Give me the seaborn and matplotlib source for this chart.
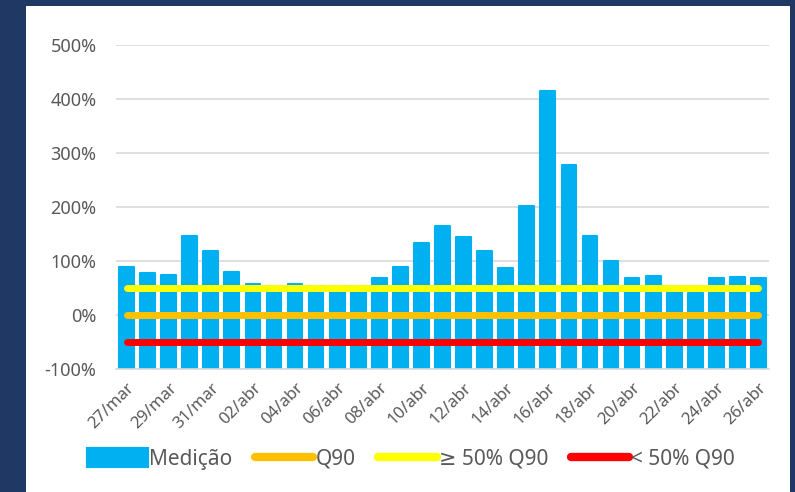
import matplotlib
matplotlib.use('Agg')

import matplotlib.pyplot as plt
import numpy as np
import pandas as pd
import seaborn as sns
from matplotlib.lines import Line2D
from matplotlib.patches import Patch, Rectangle
from matplotlib.ticker import FuncFormatter


# ── Data ─────────────────────────────────────────────────────────────────────

dates = [
    '27/mar', '28/mar', '29/mar', '30/mar', '31/mar',
    '01/abr', '02/abr', '03/abr', '04/abr', '05/abr', '06/abr', '07/abr',
    '08/abr', '09/abr', '10/abr', '11/abr', '12/abr', '13/abr', '14/abr',
    '15/abr', '16/abr', '17/abr', '18/abr', '19/abr', '20/abr', '21/abr',
    '22/abr', '23/abr', '24/abr', '25/abr', '26/abr',
]
medicao = [
    88, 77, 75, 146, 119,
    80, 58, 53, 58, 54, 53, 53,
    69, 88, 133, 164, 145, 118, 87,
    202, 415, 277, 146, 100, 68, 73,
    44, 41, 68, 71, 69,
]
q90_level = 0
acima_level = 50
abaixo_level = -50

y_ticks = [-100, 0, 100, 200, 300, 400, 500]

# ── Style ────────────────────────────────────────────────────────────────────

NAVY   = '#203864'
BLUE   = '#00B0F0'
ORANGE = '#FFC000'
YELLOW = '#FFFF00'
RED    = '#FF0000'
GRAY   = '#595959'
GRID   = '#D9D9D9'

sns.set_style('white')
plt.rcParams['font.family'] = ['Noto Sans', 'DejaVu Sans']

df = pd.DataFrame({'Data': dates, 'Medição': medicao})

fig = plt.figure(figsize=(7.95, 4.92), dpi=100, facecolor=NAVY)
fig.patches.append(Rectangle((26 / 795, 0), 764 / 795, 486 / 492,
                             transform=fig.transFigure, facecolor='white',
                             edgecolor='none', zorder=-5))
ax = fig.add_axes([116 / 795, 1 - 369 / 492, 653 / 795, 324 / 492])
ax.set_facecolor('none')

# bars start at the axis floor (-100%), as in the Excel original
sns.barplot(data=df, x='Data', y='Medição', color=BLUE, saturation=1,
            width=0.7, ax=ax, zorder=2, edgecolor=BLUE, linewidth=1.5)
for p in ax.patches:
    h = p.get_height()
    p.set_y(y_ticks[0])
    p.set_height(h - y_ticks[0])
    p.set_joinstyle('round')

n = len(dates)
for level, color in [(abaixo_level, RED), (q90_level, ORANGE), (acima_level, YELLOW)]:
    sns.lineplot(x=np.arange(n), y=[level] * n, color=color, linewidth=5,
                 solid_capstyle='round', sort=False, ax=ax, zorder=3)

ax.set_ylim(y_ticks[0], y_ticks[-1])
ax.set_xlim(-0.5, n - 0.5)
ax.set_yticks(y_ticks)
ax.yaxis.set_major_formatter(FuncFormatter(lambda v, _: f'{v:.0f}%'))
ax.grid(axis='y', color=GRID, linewidth=1.2, zorder=0)
ax.set_axisbelow(True)

ax.set_xticks(range(0, n, 2))
ax.set_xticklabels(dates[::2], rotation=45, ha='right', rotation_mode='anchor')
ax.set_xticks(np.arange(-0.5, n - 1, 2), minor=True)
ax.tick_params(axis='x', which='major', length=0, pad=8, labelsize=12, labelcolor=GRAY)
ax.tick_params(axis='x', which='minor', length=5, width=1.2, color=GRID, direction='out')
ax.tick_params(axis='y', length=0, pad=14, labelsize=13, labelcolor=GRAY)
ax.set_xlabel('')
ax.set_ylabel('')

for side in ['top', 'right', 'left']:
    ax.spines[side].set_visible(False)
ax.spines['bottom'].set_color(GRID)
ax.spines['bottom'].set_linewidth(1.2)

handles = [
    Patch(facecolor=BLUE, edgecolor=BLUE, linewidth=3, joinstyle='round'),
    Line2D([], [], color=ORANGE, linewidth=6, solid_capstyle='round'),
    Line2D([], [], color=YELLOW, linewidth=6, solid_capstyle='round'),
    Line2D([], [], color=RED, linewidth=6, solid_capstyle='round'),
]
labels = ['Medição', 'Q90', '≥ 50% Q90', '< 50% Q90']
fig.legend(handles, labels, loc='center', bbox_to_anchor=(0.518, 1 - 459 / 492),
           ncol=4, frameon=False, fontsize=15, labelcolor=GRAY,
           handlelength=2.8, handleheight=0.9, handletextpad=0.1,
           columnspacing=1.1)

fig.savefig('out.png', dpi=100, facecolor=NAVY)
